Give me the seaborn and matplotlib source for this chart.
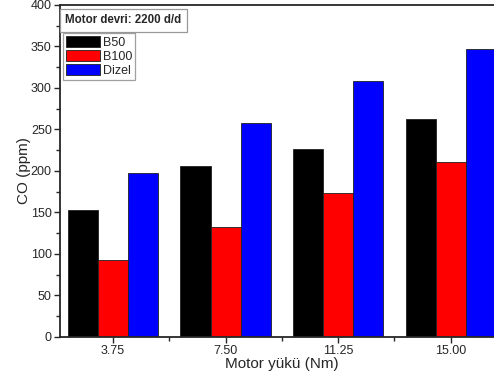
import pandas as pd
import matplotlib
matplotlib.use("Agg")
import matplotlib.pyplot as plt
from matplotlib.ticker import MultipleLocator, FixedLocator
import seaborn as sns

# Values
loads = ["3.75", "7.50", "11.25", "15.00"]
b50 = [153, 206, 227, 263]
b100 = [93, 133, 174, 211]
dizel = [197, 258, 309, 347]
fuels = ["B50", "B100", "Dizel"]
colors = ["#000000", "#ff0000", "#0000ff"]

df = pd.DataFrame({
    "load": loads * 3,
    "fuel": ["B50"] * 4 + ["B100"] * 4 + ["Dizel"] * 4,
    "co": b50 + b100 + dizel,
})

sns.set_style("ticks")
plt.rcParams["font.family"] = ["Liberation Sans", "DejaVu Sans"]

fig = plt.figure(figsize=(4.94, 3.78), dpi=100)
ax = fig.add_axes([0.1215, 0.1085, 0.898, 0.8783])

sns.barplot(data=df, x="load", y="co", hue="fuel", hue_order=fuels,
            palette=colors, saturation=1, width=0.8, gap=0,
            edgecolor="#202020", linewidth=0.6, ax=ax, legend=True)

ax.set_xlim(-0.47, 3.47)
ax.set_ylim(0, 400)
ax.yaxis.set_major_locator(MultipleLocator(50))
ax.yaxis.set_minor_locator(MultipleLocator(25))
ax.xaxis.set_minor_locator(FixedLocator([0.5, 1.5, 2.5]))
ax.tick_params(axis="both", which="major", direction="out", length=4,
               width=1, labelsize=9, pad=2)
ax.tick_params(axis="both", which="minor", direction="out", length=3, width=1)

for s in ["left", "bottom", "top"]:
    ax.spines[s].set_linewidth(1.3)
ax.spines["right"].set_visible(False)

ax.set_ylabel("CO (ppm)", fontsize=11, labelpad=0)
ax.set_xlabel("Motor yükü (Nm)", fontsize=11, labelpad=0)

ax.text(0.012, 0.972, "Motor devri: 2200 d/d", transform=ax.transAxes,
        fontsize=8.3, fontweight="bold", va="top", ha="left",
        bbox=dict(boxstyle="square,pad=0.5", fc="white", ec="#999999", lw=0.9))

leg = ax.legend(loc="upper left", bbox_to_anchor=(0.005, 0.918), fontsize=9,
                frameon=True, fancybox=False, edgecolor="#888888",
                handlelength=2.7, handleheight=1.0, handletextpad=0.3,
                labelspacing=0.1, borderpad=0.2, borderaxespad=0.1)
leg.get_frame().set_linewidth(0.9)

fig.savefig("out.png", dpi=100)
